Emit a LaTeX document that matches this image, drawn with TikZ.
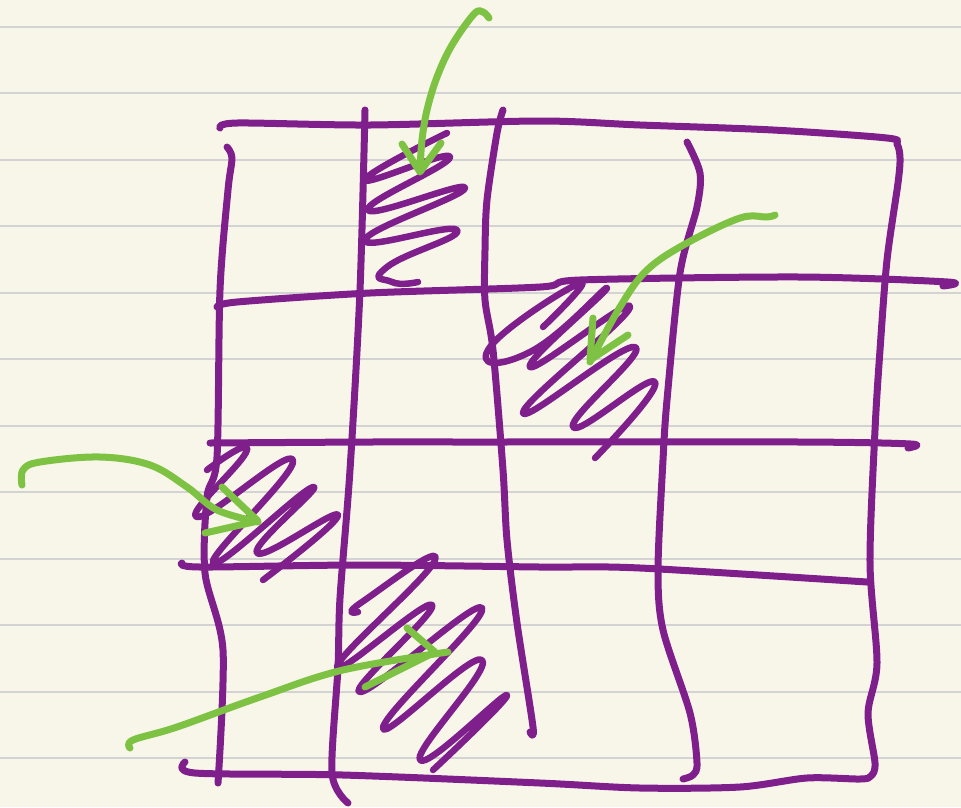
\documentclass[tikz,border=0pt]{standalone}
\usepackage{tikz}
\usepackage{xcolor}
\definecolor{paper}{HTML}{F8F6E9}
\definecolor{ruling}{HTML}{D3D3D3}
\definecolor{grape}{HTML}{7F1F8B}
\definecolor{lime}{HTML}{7DC242}

\begin{document}
\begin{tikzpicture}[x=1pt, y=-1pt,
    rule/.style={ruling, line width=2pt},
    ink/.style={grape, line width=7pt, line cap=round, line join=round},
    scribble/.style={grape, line width=6.5pt, line cap=round, line join=round},
    pointer/.style={lime, line width=7pt, line cap=round, line join=round}]
  \fill[paper] (0,0) rectangle (961,807);
  \useasboundingbox (0,0) rectangle (961,807);
  \foreach \k in {0,...,11}
    \draw[rule] (0,{26.5+66.5*\k}) -- (961,{26.5+66.5*\k});

  % grid
  \draw[ink] plot[smooth, tension=0.5] coordinates {(220,128) (237,123) (370,125) (540,121) (640,125) (773,130) (887,138) (897,144) (900,158)
    (898,183) (887,260) (880,350) (875,430) (870,563) (877,663) (868,713) (875,763) (871,776) (860,779)
    (807,778) (740,787) (640,788) (540,783) (343,775) (195,773) (185,762)};
  \draw[ink] plot[smooth, tension=0.5] coordinates {(217,307) (237,302) (370,293) (540,287) (580,280) (800,277) (948,282) (943,286)};
  \draw[ink] plot[smooth, tension=0.5] coordinates {(210,443) (370,442) (480,442) (800,442) (911,444) (908,448)};
  \draw[ink] plot[smooth, tension=0.5] coordinates {(182,563) (200,567) (360,565) (540,567) (640,568) (867,582)};
  \draw[ink] plot[smooth, tension=0.5] coordinates {(227,147) (232,158) (228,190) (220,290) (217,457) (207,497) (205,573) (223,650) (218,783)};
  \draw[ink] plot[smooth, tension=0.5] coordinates {(365,110) (360,290) (350,470) (340,598) (338,667) (332,773) (348,803)};
  \draw[ink] plot[smooth, tension=0.5] coordinates {(503,110) (497,133) (487,200) (485,250) (485,300) (493,350) (503,470) (507,540) (517,623) (533,727) (530,732)};
  \draw[ink] plot[smooth, tension=0.5] coordinates {(687,142) (700,173) (697,207) (680,273) (667,400) (663,460) (658,570) (663,630) (690,713) (697,763) (693,775) (683,779)};

  % shaded cells
  \draw[scribble] plot[smooth, tension=1] coordinates {(447,133) (365,180) (450,157) (368,210) (465,188) (365,240) (457,230) (387,267) (392,282) (418,282)};
  \draw[scribble] plot[smooth, tension=1] coordinates {(543,327) (580,283) (490,347) (530,352) (607,288) (530,367) (630,307) (523,413) (635,347) (573,427) (655,382) (595,458)};
  \draw[scribble] plot[smooth, tension=1] coordinates {(207,470) (247,450) (197,517) (293,460) (213,563) (313,487) (257,553) (338,515) (263,580)};
  \draw[scribble] plot[smooth, tension=1] coordinates {(358,612) (362,602) (435,560) (337,667) (432,605) (360,692) (482,608) (383,728) (482,660) (420,760) (507,695) (433,770)};

  % arrows
  \draw[pointer] plot[smooth, tension=0.6] coordinates {(489,18) (483,12) (474,14) (452,45) (437,77) (427,110) (422,140) (420,170)};
  \draw[pointer] (402,144) -- (420,172) -- (441,143);
  \draw[pointer] plot[smooth, tension=0.6] coordinates {(775,215) (767,217) (740,218) (687,243) (647,270) (620,307) (590,362)};
  \draw[pointer] (593,318) -- (590,360) -- (628,335);
  \draw[pointer] plot[smooth, tension=0.6] coordinates {(22,485) (23,470) (40,462) (100,457) (150,465) (187,487) (217,510) (258,522)};
  \draw[pointer] (222,487) -- (258,521) -- (205,533);
  \draw[pointer] plot[smooth, tension=0.6] coordinates {(130,748) (133,740) (177,727) (260,697) (343,670) (448,652)};
  \draw[pointer] (407,628) -- (435,652) -- (365,687);
\end{tikzpicture}
\end{document}
